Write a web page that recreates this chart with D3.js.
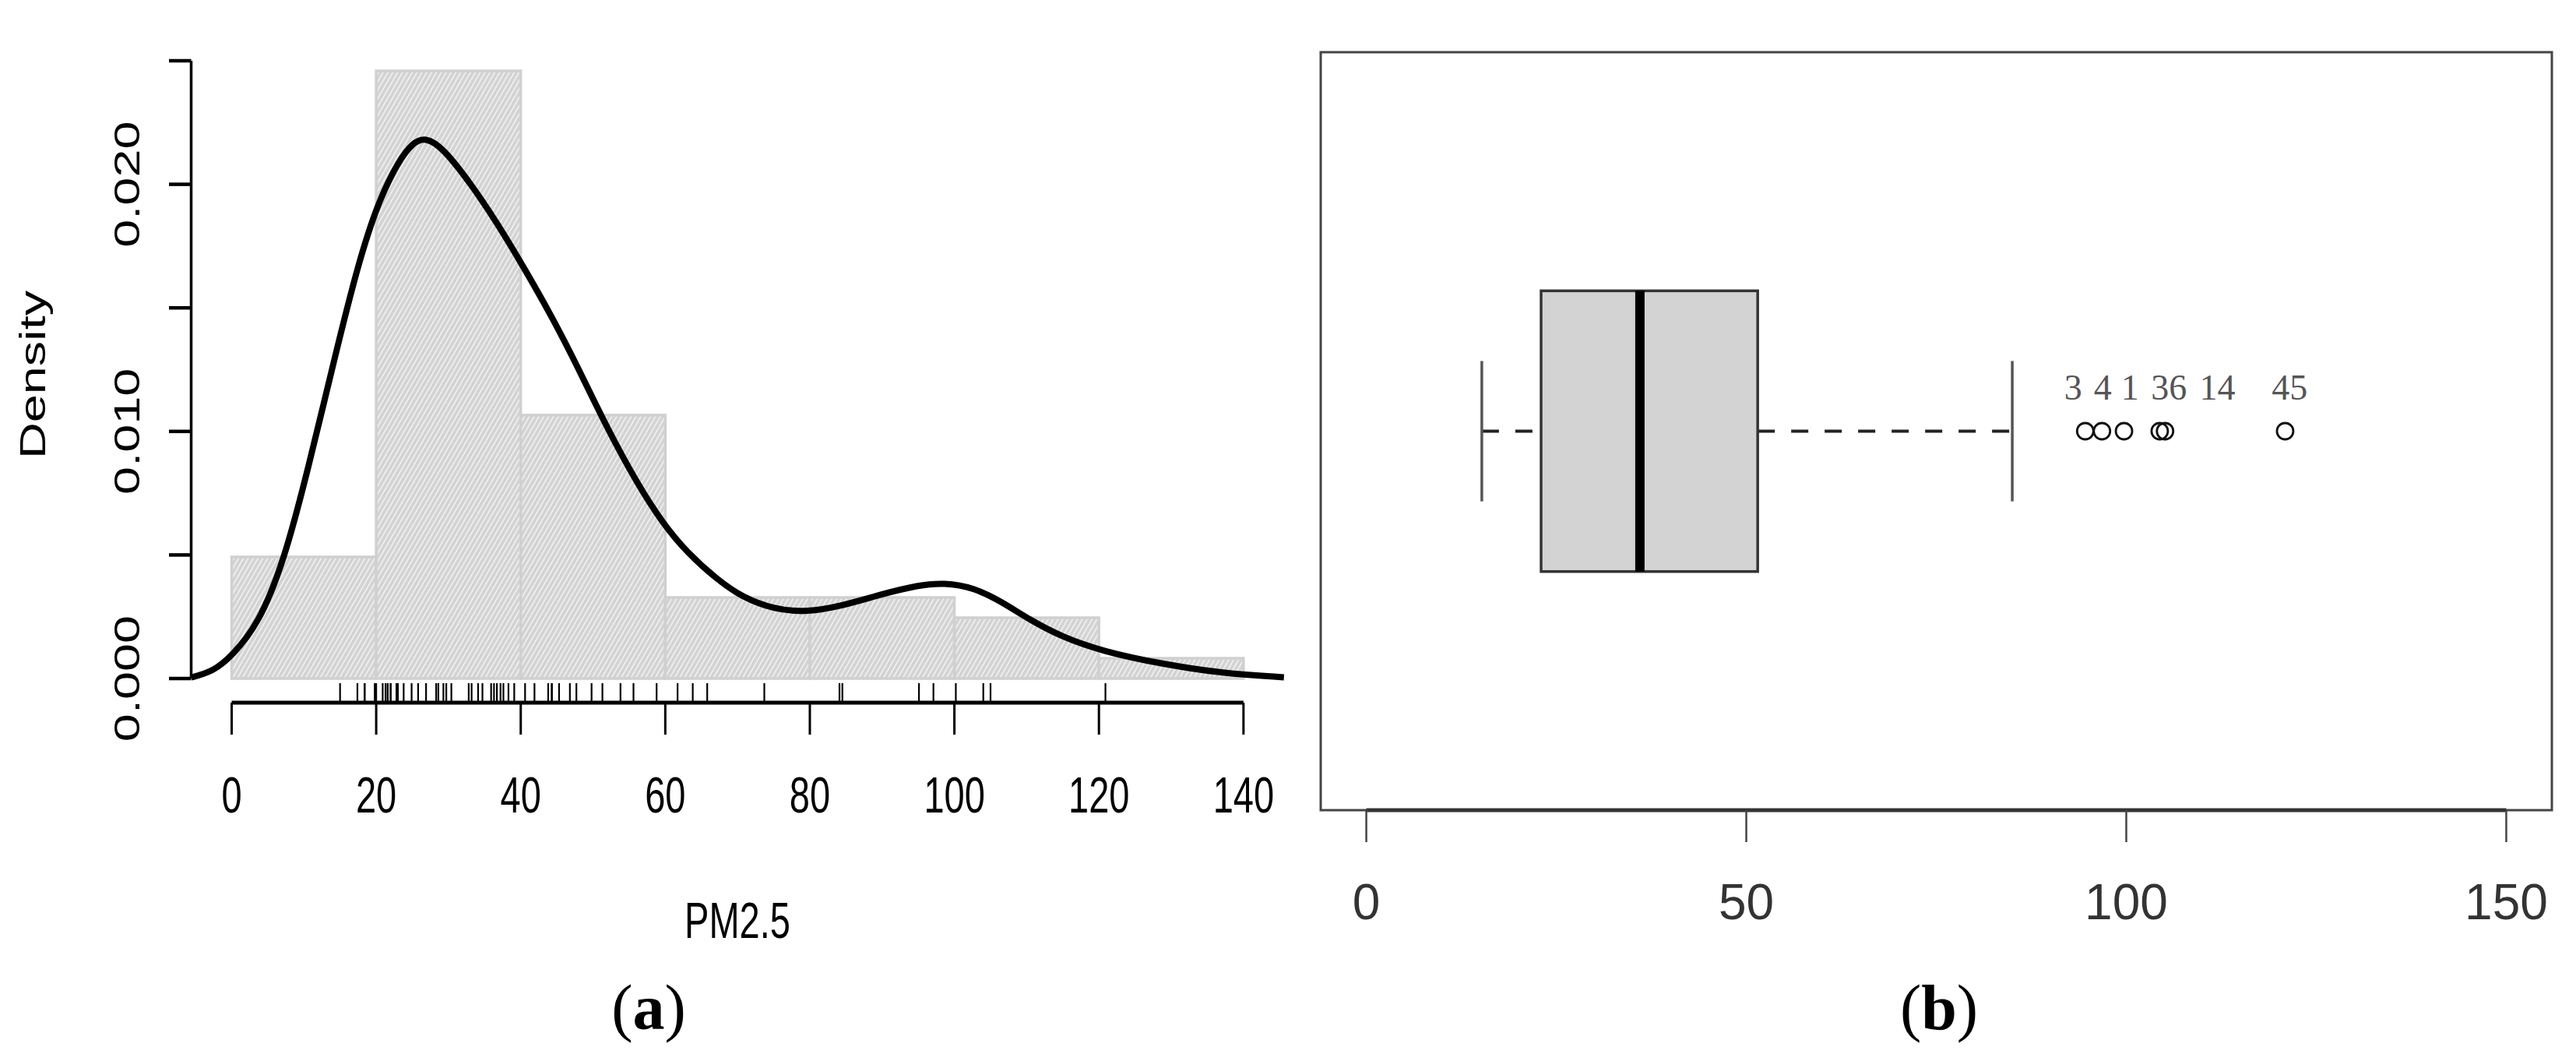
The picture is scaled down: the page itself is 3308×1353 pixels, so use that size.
<!DOCTYPE html>
<html lang="en">
<head>
<meta charset="UTF-8">
<title>PM2.5 density and boxplot</title>
<script src="https://d3js.org/d3.v7.min.js"></script>
<style>
    body { margin: 0; background: #fff; }
    svg { display: block; }
    .sans { font-family: "Liberation Sans", Arial, sans-serif; }
    .serif { font-family: "Liberation Serif", "Times New Roman", serif; }
</style>
</head>
<body>
<svg id="chart" width="3308" height="1353"></svg>
<script>
// ---- data ----
const histBreaks = [0, 20, 40, 60, 80, 100, 120, 140];
const histDensity = [0.00492, 0.02459, 0.01066, 0.00328, 0.00328, 0.00246, 0.00082];

// kernel density line, x and density values
const curveX = [-5.6, -2.5, 0, 3.7, 7.2, 10.6, 14.1, 17.5, 20.3, 23.0, 25.1, 26.8, 29.2, 33.4, 36.8, 40.3,
    44.4, 47.9, 52.0, 56.1, 59.6, 63.0, 67.2, 70.6, 75.0, 79.5, 84.5, 90.0, 95.0, 98.6, 102.7, 106.6,
    110.5, 114.9, 120.5, 128.8, 137.1, 145.6];
const curveY = [0.00004, 0.0003, 0.0009, 0.0022, 0.0047, 0.0085, 0.0128, 0.0168, 0.0193, 0.0209, 0.0217, 0.0219,
    0.0215, 0.0199, 0.0184, 0.0167, 0.0146, 0.0126, 0.0101, 0.0079, 0.0063, 0.0051, 0.004, 0.0033, 0.0028,
    0.00268, 0.00294, 0.00342, 0.00378, 0.00388, 0.00368, 0.0031, 0.00236, 0.00168, 0.0011, 0.00058,
    0.00021, 0.00005];

// rug of observations
const rugValues = [15.0, 17.4, 18.4, 18.4, 19.8, 20.0,
    20.9, 21.3, 21.3, 21.6, 22.0, 22.0, 22.8, 22.8, 23.0, 23.0, 23.8, 24.9, 25.8, 26.9, 28.3,
    28.6, 29.3, 29.7, 30.4, 32.8, 33.2, 34.1, 34.7, 35.9, 36.3, 36.7, 37.2, 37.6, 38.3, 39.1,
    40.6, 41.9, 43.8, 44.3, 44.3, 45.3, 46.8, 47.7, 49.8, 51.3, 53.8, 55.6, 58.8,
    61.7, 63.8, 65.8, 73.7, 84.1, 84.5, 95.1, 97.1, 100.2, 104.0, 105.0, 120.9];

const xTicksA = [0, 20, 40, 60, 80, 100, 120, 140];
const yTicksA = [0, 0.005, 0.010, 0.015, 0.020, 0.025];
const yLabelsA = [0, 0.010, 0.020];

// boxplot: min whisker, lower hinge, median, upper hinge, max whisker
const boxStats = [15.2, 23.0, 36.0, 51.5, 85.0];
const outliers = [94.6, 96.8, 99.7, 104.4, 105.1, 120.9];
const outlierLabels = ["3", "4", "1", "36", "14", "45"];
const outlierLabelX = [93.0, 96.9, 100.5, 105.6, 112.0, 121.5];
const xTicksB = [0, 50, 100, 150];

const svg = d3.select('#chart');

// ================= panel (a) =================
const xA = d3.scaleLinear().domain([-5.6, 145.6]).range([245.5, 1648.8]);
const yA = d3.scaleLinear().domain([0, 0.025]).range([871, 78]);
const stretch = 1.38;

const defs = svg.append('defs');
const pat = defs.append('pattern')
    .attr('id', 'hatch')
    .attr('patternUnits', 'userSpaceOnUse')
    .attr('width', 5.4)
    .attr('height', 10)
    .attr('patternTransform', 'rotate(30)');
pat.append('rect').attr('width', 5.4).attr('height', 10).attr('fill', '#d3d3d3');
pat.append('line').attr('x1', 2.7).attr('x2', 2.7).attr('y1', 0).attr('y2', 10)
    .attr('stroke', '#f4f4f4').attr('stroke-width', 1.5);

const gA = svg.append('g');

// histogram bars
gA.append('g')
    .selectAll('rect')
    .data(histDensity)
    .enter().append('rect')
    .attr('x', (d, i) => xA(histBreaks[i]))
    .attr('y', d => yA(d))
    .attr('width', (d, i) => xA(histBreaks[i + 1]) - xA(histBreaks[i]))
    .attr('height', d => yA(0) - yA(d))
    .attr('fill', 'url(#hatch)')
    .attr('stroke', '#d0d0d0')
    .attr('stroke-width', 3.5);

// density line
const line = d3.line()
    .x(i => xA(curveX[i]))
    .y(i => yA(curveY[i]))
    .curve(d3.curveBasis);
gA.append('path')
    .attr('d', line(d3.range(curveX.length)))
    .attr('fill', 'none')
    .attr('stroke', '#000')
    .attr('stroke-width', 8)
    .attr('stroke-linejoin', 'round');

// rug
gA.append('g')
    .selectAll('line')
    .data(rugValues)
    .enter().append('line')
    .attr('x1', d => xA(d)).attr('x2', d => xA(d))
    .attr('y1', 877).attr('y2', 901)
    .attr('stroke', '#000')
    .attr('stroke-width', 2.2);

// x axis
const axisYA = 902;
gA.append('line')
    .attr('x1', xA(0)).attr('x2', xA(140))
    .attr('y1', axisYA).attr('y2', axisYA)
    .attr('stroke', '#000').attr('stroke-width', 5);
gA.append('g').selectAll('line')
    .data(xTicksA)
    .enter().append('line')
    .attr('x1', d => xA(d)).attr('x2', d => xA(d))
    .attr('y1', axisYA).attr('y2', 943)
    .attr('stroke', '#000').attr('stroke-width', 3);
gA.append('g').selectAll('text')
    .data(xTicksA)
    .enter().append('text')
    .attr('class', 'sans')
    .attr('transform', d => `translate(${xA(d)},1043) scale(1,${stretch})`)
    .attr('text-anchor', 'middle')
    .attr('font-size', 47)
    .text(d => d);

// y axis
const axisXA = 245.5;
gA.append('line')
    .attr('x1', axisXA).attr('x2', axisXA)
    .attr('y1', yA(0)).attr('y2', yA(0.025))
    .attr('stroke', '#000').attr('stroke-width', 3.5);
gA.append('g').selectAll('line')
    .data(yTicksA)
    .enter().append('line')
    .attr('x1', 217).attr('x2', axisXA)
    .attr('y1', d => yA(d)).attr('y2', d => yA(d))
    .attr('stroke', '#000').attr('stroke-width', 4.5);
gA.append('g').selectAll('text')
    .data(yLabelsA)
    .enter().append('text')
    .attr('class', 'sans')
    .attr('transform', d => `translate(179,${yA(d)}) rotate(-90) scale(${stretch},1)`)
    .attr('text-anchor', 'middle')
    .attr('font-size', 47)
    .text(d => d3.format('.3f')(d));

// axis titles
gA.append('text')
    .attr('class', 'sans')
    .attr('transform', `translate(947,1204) scale(1,${stretch})`)
    .attr('text-anchor', 'middle')
    .attr('font-size', 47)
    .text('PM2.5');
gA.append('text')
    .attr('class', 'sans')
    .attr('transform', `translate(58,481) rotate(-90) scale(${stretch},1)`)
    .attr('text-anchor', 'middle')
    .attr('font-size', 47)
    .text('Density');

// ================= panel (b) =================
const xB = d3.scaleLinear().domain([-6, 156]).range([1696, 3277]);
const yB = d3.scaleLinear().domain([0.46, 1.54]).range([1040, 67]);
const gB = svg.append('g');

// frame
gB.append('rect')
    .attr('x', xB(-6)).attr('y', yB(1.54))
    .attr('width', xB(156) - xB(-6)).attr('height', yB(0.46) - yB(1.54))
    .attr('fill', 'none').attr('stroke', '#444').attr('stroke-width', 3);

// whiskers (dashed, drawn low to high)
const whiskers = [[boxStats[0], boxStats[1]], [boxStats[3], boxStats[4]]];
gB.append('g').selectAll('line')
    .data(whiskers)
    .enter().append('line')
    .attr('x1', d => xB(d[0])).attr('x2', d => xB(d[1]))
    .attr('y1', yB(1)).attr('y2', yB(1))
    .attr('stroke', '#222').attr('stroke-width', 4)
    .attr('stroke-dasharray', '22,21');
gB.append('g').selectAll('line')
    .data([boxStats[0], boxStats[4]])
    .enter().append('line')
    .attr('x1', d => xB(d)).attr('x2', d => xB(d))
    .attr('y1', yB(1.1)).attr('y2', yB(0.9))
    .attr('stroke', '#555').attr('stroke-width', 3.5);

// box
gB.append('rect')
    .attr('x', xB(boxStats[1])).attr('y', yB(1.2))
    .attr('width', xB(boxStats[3]) - xB(boxStats[1]))
    .attr('height', yB(0.8) - yB(1.2))
    .attr('fill', '#d3d3d3').attr('stroke', '#333').attr('stroke-width', 3.5);
gB.append('line')
    .attr('x1', xB(boxStats[2])).attr('x2', xB(boxStats[2]))
    .attr('y1', yB(1.2)).attr('y2', yB(0.8))
    .attr('stroke', '#000').attr('stroke-width', 12);

// outliers
gB.append('g').selectAll('circle')
    .data(outliers)
    .enter().append('circle')
    .attr('cx', d => xB(d)).attr('cy', yB(1))
    .attr('r', 10.5)
    .attr('fill', 'none').attr('stroke', '#111').attr('stroke-width', 2.8);
gB.append('g').selectAll('text')
    .data(outlierLabels)
    .enter().append('text')
    .attr('class', 'serif')
    .attr('x', (d, i) => xB(outlierLabelX[i]))
    .attr('y', 513)
    .attr('text-anchor', 'middle')
    .attr('font-size', 46)
    .attr('fill', '#555')
    .text(d => d);

// x axis
const axisYB = yB(0.46);
gB.append('line')
    .attr('x1', xB(0)).attr('x2', xB(150))
    .attr('y1', axisYB).attr('y2', axisYB)
    .attr('stroke', '#333').attr('stroke-width', 5);
gB.append('g').selectAll('line')
    .data(xTicksB)
    .enter().append('line')
    .attr('x1', d => xB(d)).attr('x2', d => xB(d))
    .attr('y1', axisYB).attr('y2', 1081)
    .attr('stroke', '#444').attr('stroke-width', 2.5);
gB.append('g').selectAll('text')
    .data(xTicksB)
    .enter().append('text')
    .attr('class', 'sans')
    .attr('x', d => xB(d)).attr('y', 1180)
    .attr('text-anchor', 'middle')
    .attr('font-size', 64)
    .attr('fill', '#333')
    .text(d => d);

// ================= captions =================
const captions = [{ x: 833, letter: 'a' }, { x: 2490, letter: 'b' }];
captions.forEach(c => {
    const t = svg.append('text')
        .attr('class', 'serif')
        .attr('x', c.x).attr('y', 1321)
        .attr('text-anchor', 'middle')
        .attr('font-size', 82);
    t.append('tspan').text('(');
    t.append('tspan').attr('font-weight', 'bold').text(c.letter);
    t.append('tspan').text(')');
});
</script>
</body>
</html>
